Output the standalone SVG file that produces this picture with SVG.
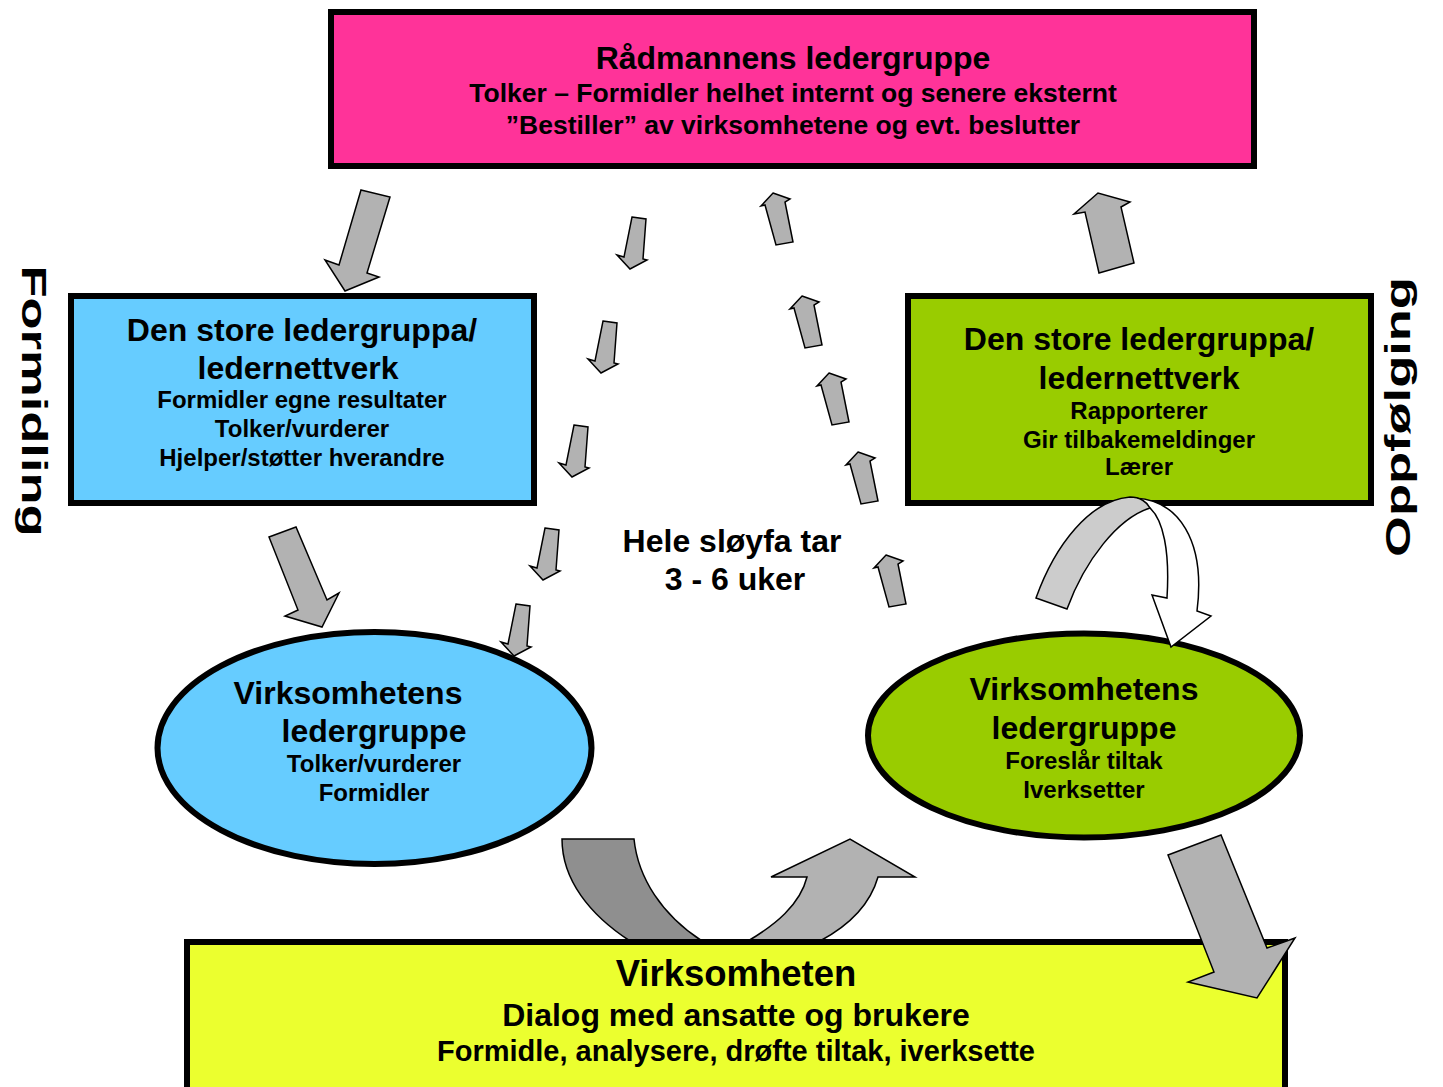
<svg xmlns="http://www.w3.org/2000/svg" width="1443" height="1087" viewBox="0 0 1443 1087">
<defs>
<style>
text{font-family:"Liberation Sans",Arial,sans-serif;font-weight:bold;fill:#000;text-anchor:middle}
.box{stroke:#000;stroke-width:6}
.arr{fill:#B2B2B2;stroke:#000;stroke-width:1.5;stroke-linejoin:miter}
.h{font-size:32px}
.s{font-size:24px}
.t{font-size:26.5px}
</style>
<path id="dn" d="M2,-52 L16,-50 L13,-10 L17,-9 L0,0 L-13,-14 L-6,-12 Z"/>
<path id="up" d="M0,0 L17,6 L12,9 L20,49 L3,52 L-8,12 L-12,13 Z"/>
</defs>
<rect width="1443" height="1087" fill="#fff"/>

<g id="connectors-back">
<path class="arr" style="fill:#8F8F8F" d="M562,839 L634,839 C638,878 662,915 702,941 L630,941 C590,915 562,880 562,839 Z"/>
<path class="arr" d="M748,941 C775,925 800,905 807,877 L771,877 L850,839 L915,877 L878,877 C870,905 850,925 820,941 Z"/>
</g>

<g id="n-radmann">
<rect class="box" x="331" y="12" width="923" height="154" fill="#FF3399"/>
<text class="h" x="793" y="69">Rådmannens ledergruppe</text>
<text class="t" x="793" y="102">Tolker – Formidler helhet internt og senere eksternt</text>
<text class="t" x="793" y="134">”Bestiller” av virksomhetene og evt. beslutter</text>
</g>

<g id="n-store-venstre">
<rect class="box" x="71" y="296" width="463" height="207" fill="#66CCFF"/>
<text class="h" x="302" y="341">Den store ledergruppa/</text>
<text class="h" x="298" y="379">ledernettverk</text>
<text class="s" x="302" y="408">Formidler egne resultater</text>
<text class="s" x="302" y="437">Tolker/vurderer</text>
<text class="s" x="302" y="466">Hjelper/støtter hverandre</text>
</g>

<g id="n-store-hoyre">
<rect class="box" x="908" y="296" width="463" height="207" fill="#99CC00"/>
<text class="h" x="1139" y="350">Den store ledergruppa/</text>
<text class="h" x="1139" y="389">ledernettverk</text>
<text class="s" x="1139" y="419">Rapporterer</text>
<text class="s" x="1139" y="448">Gir tilbakemeldinger</text>
<text class="s" x="1139" y="475">Lærer</text>
</g>

<g id="n-virk-venstre">
<ellipse class="box" cx="374.5" cy="748" rx="217" ry="116" fill="#66CCFF"/>
<text class="h" x="348" y="704">Virksomhetens</text>
<text class="h" x="374" y="742">ledergruppe</text>
<text class="s" x="374" y="772">Tolker/vurderer</text>
<text class="s" x="374" y="801">Formidler</text>
</g>

<g id="n-virk-hoyre">
<ellipse class="box" cx="1084" cy="735.5" rx="216" ry="102" fill="#99CC00"/>
<text class="h" x="1084" y="700">Virksomhetens</text>
<text class="h" x="1084" y="739">ledergruppe</text>
<text class="s" x="1084" y="769">Foreslår tiltak</text>
<text class="s" x="1084" y="798">Iverksetter</text>
</g>

<g id="n-virksomheten">
<rect class="box" x="187" y="942" width="1098" height="150" fill="#EBFF2F"/>
<text x="736" y="986" style="font-size:36.5px">Virksomheten</text>
<text class="h" x="736" y="1026">Dialog med ansatte og brukere</text>
<text x="736" y="1061" style="font-size:29px">Formidle, analysere, drøfte tiltak, iverksette</text>
</g>

<g id="arrows">
<path class="arr" style="fill:#fff" d="M1135,498 C1178,500 1206,540 1197,611 L1211,616 L1171,647 L1152,595 L1167,598 C1170,550 1163,520 1150,508 Z"/>
<path class="arr" style="fill:#CCCCCC" d="M1036,598 C1055,545 1090,500 1130,497 C1140,497 1147,502 1150,508 C1118,518 1085,560 1067,609 Z"/>
<polygon class="arr" points="361,190 390,197 367,273 379,277 345,291 325,260 339,265"/>
<polygon class="arr" points="269,537 296,527 327,600 339,593 322,627 285,616 298,610"/>
<polygon class="arr" points="1168,855 1221,835 1267,948 1295,938 1257,998 1188,982 1214,972"/>
<polygon class="arr" points="1099,273 1134,263 1121,207 1130,202 1098,193 1074,214 1085,212"/>
<use href="#dn" class="arr" x="630" y="269"/>
<use href="#dn" class="arr" x="601" y="373"/>
<use href="#dn" class="arr" x="572" y="477"/>
<use href="#dn" class="arr" x="543" y="580"/>
<use href="#dn" class="arr" x="514" y="656"/>
<use href="#up" class="arr" x="773" y="193"/>
<use href="#up" class="arr" x="802" y="296"/>
<use href="#up" class="arr" x="829" y="373"/>
<use href="#up" class="arr" x="858" y="452"/>
<use href="#up" class="arr" x="886" y="555"/>
</g>

<g id="labels">
<text class="h" x="732" y="552">Hele sløyfa tar</text>
<text class="h" x="735" y="590">3 - 6 uker</text>
<text transform="translate(22,401) rotate(90) scale(1.5,1)" style="font-size:35px">Formidling</text>
<text transform="translate(1410,417) rotate(-90) scale(1.5,1)" style="font-size:35px">Oppfølging</text>
</g>
</svg>
